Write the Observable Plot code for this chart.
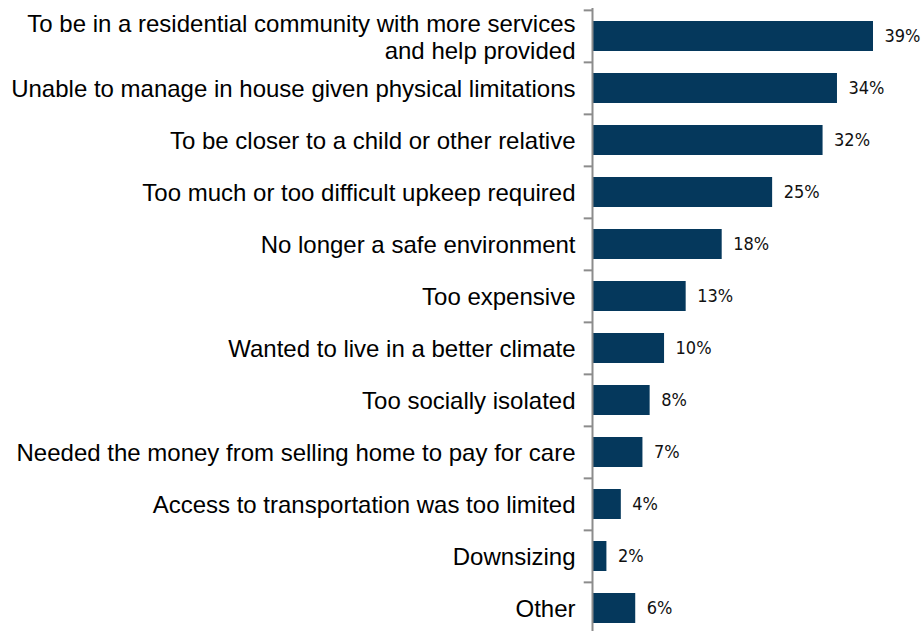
<!DOCTYPE html>
<html>
<head>
<meta charset="utf-8">
<script src="https://cdn.jsdelivr.net/npm/d3@7"></script>
<script src="https://cdn.jsdelivr.net/npm/@observablehq/plot@0.6"></script>
<style>
  html, body { margin: 0; padding: 0; background: #fff; }
  #chart svg { display: block; }
</style>
</head>
<body>
<div id="chart"></div>
<script>
const categories = [
  "To be in a residential community with more services\nand help provided",
  "Unable to manage in house given physical limitations",
  "To be closer to a child or other relative",
  "Too much or too difficult upkeep required",
  "No longer a safe environment",
  "Too expensive",
  "Wanted to live in a better climate",
  "Too socially isolated",
  "Needed the money from selling home to pay for care",
  "Access to transportation was too limited",
  "Downsizing",
  "Other"
];
const values = [39, 34, 32, 25, 18, 13, 10, 8, 7, 4, 2, 6];

const data = categories.map((c, i) => ({category: c, value: values[i]}));

const W = 924, H = 631;
const yTop = 8, step = (583 - 8) / 11;
const yBottom = yTop + step * 12;

const chart = Plot.plot({
  width: W,
  height: H,
  marginLeft: 592,
  marginRight: 51,
  marginTop: 8,
  marginBottom: 0,
  style: {background: "#fff"},
  x: {domain: [0, 39], axis: null},
  y: {domain: categories, range: [yTop, yBottom], paddingInner: 0.43, paddingOuter: 0.215, axis: null},
  marks: [
    Plot.barX(data, {y: "category", x: "value", fill: "#05385c"}),
    Plot.text(data, {
      y: "category", x: "value", text: d => d.value + "%",
      textAnchor: "start", dx: 11, dy: 0,
      fontFamily: "DejaVu Sans Condensed, DejaVu Sans", fontSize: 18, fill: "#111"
    }),
    Plot.text(data, {
      y: "category", x: 0, text: "category",
      textAnchor: "end", dx: -17, dy: 0, lineHeight: 1.125,
      fontFamily: "Liberation Sans, Arial, sans-serif", fontSize: 24, fill: "#000"
    }),
    Plot.ruleY(categories, {y: d => d, x1: -1.15, x2: 0, dy: -step / 2, stroke: "#8c8c8c", strokeWidth: 2}),
    Plot.ruleX([0], {stroke: "#8c8c8c", strokeWidth: 2})
  ]
});
document.getElementById("chart").append(chart);
</script>
</body>
</html>
